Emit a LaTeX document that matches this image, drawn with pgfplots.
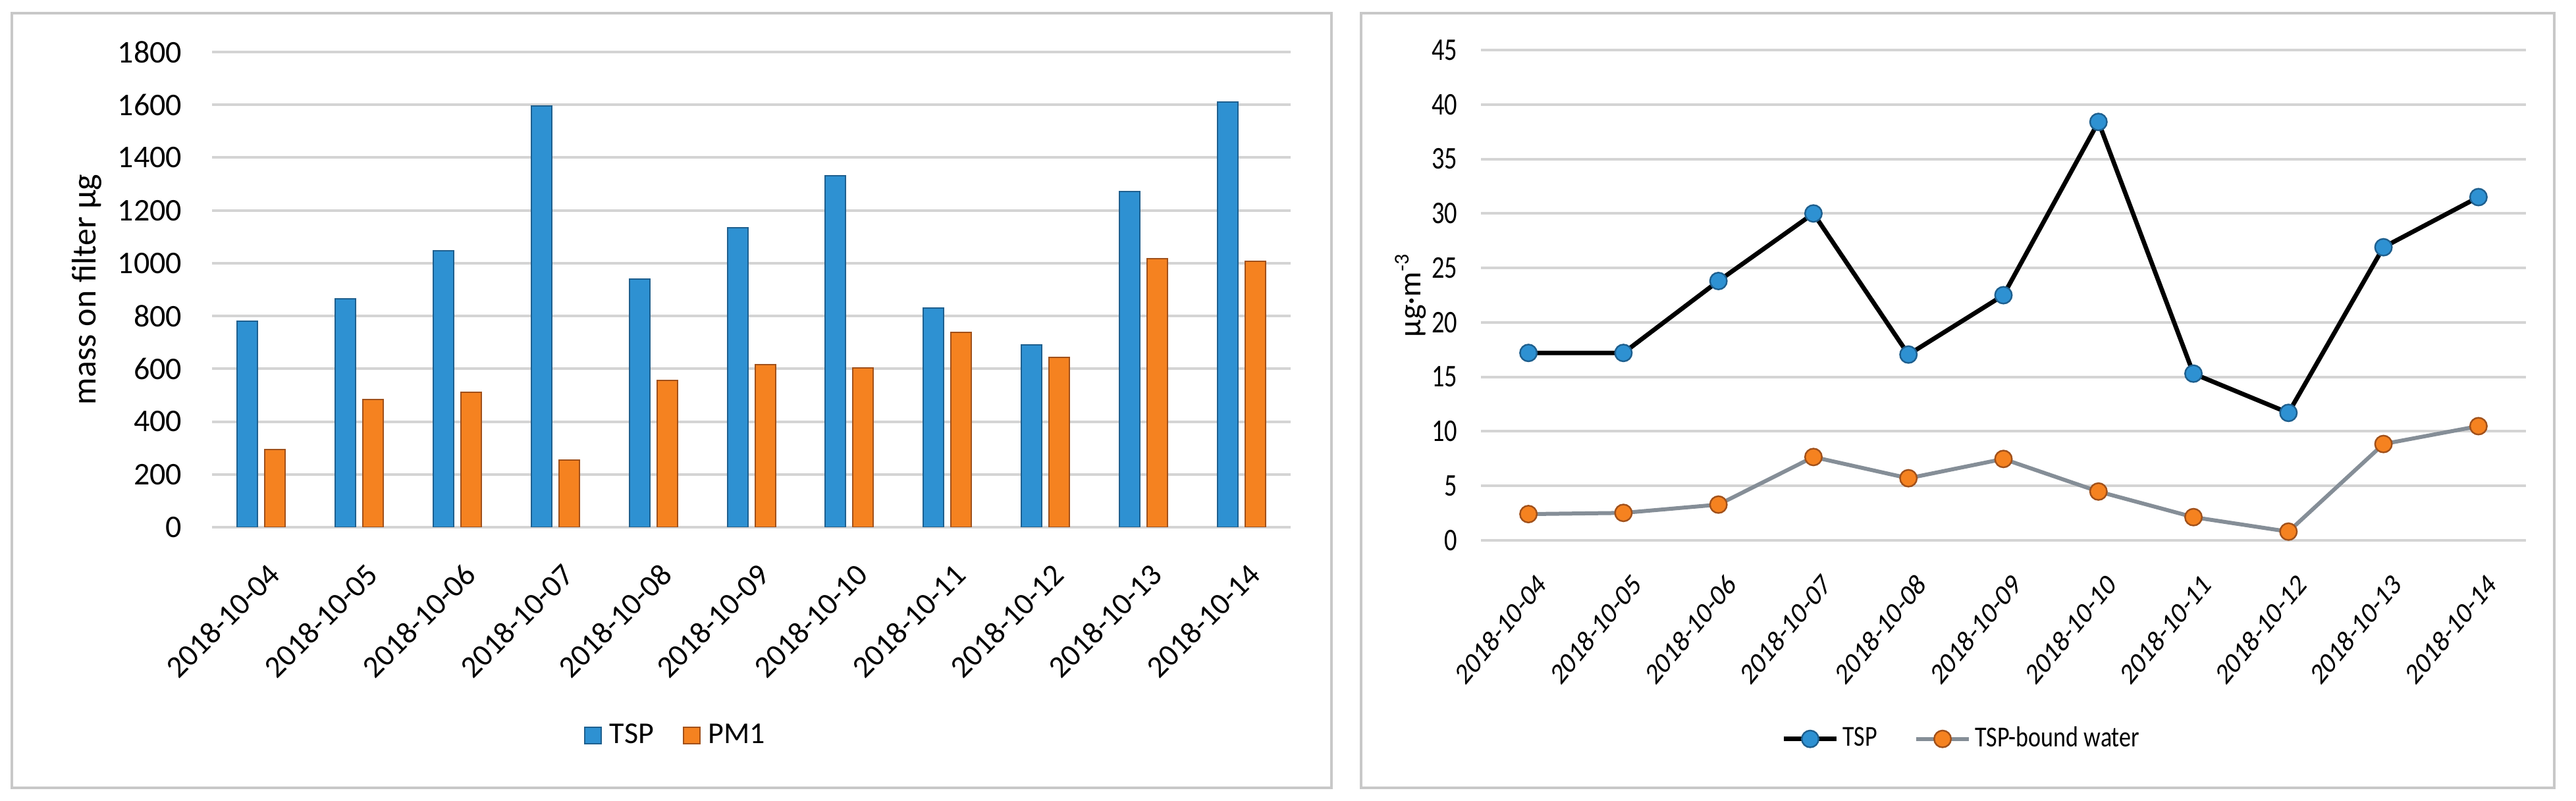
\documentclass[border=0pt]{standalone}
\usepackage{fontspec}
\setmainfont{Carlito}
\usepackage{graphicx}
\usepackage{pgfplots}
\pgfplotsset{compat=1.18}

\definecolor{tspblue}{HTML}{2E91D2}
\definecolor{tspdark}{HTML}{1E5F8E}
\definecolor{pmorange}{HTML}{F58220}
\definecolor{pmdark}{HTML}{A0501A}
\definecolor{gridgray}{HTML}{D4D4D4}
\definecolor{framegray}{HTML}{C8C8C8}
\definecolor{watergray}{HTML}{858E97}

\pgfplotsset{
  sqlegend/.style={legend image code/.code={\draw[##1] (0pt,-3.1pt) rectangle (6.2pt,3.1pt);}},
  lnlegend/.style={legend image code/.code={\draw[mark repeat=2,mark phase=2,##1] plot coordinates {(0pt,0pt) (10pt,0pt) (20pt,0pt)};}},
}

\pgfplotstableread{
x tsp pm
0 780 295
1 865 484
2 1046 510
3 1595 255
4 940 557
5 1135 615
6 1332 604
7 829 737
8 691 644
9 1271 1018
10 1611 1006
}\bardata

\pgfplotstableread{
x tsp water
0 17.2 2.41
1 17.2 2.52
2 23.8 3.28
3 30.0 7.65
4 17.05 5.70
5 22.5 7.47
6 38.4 4.48
7 15.3 2.13
8 11.7 0.80
9 26.9 8.84
10 31.5 10.48
}\linedata

\begin{document}
\begin{tikzpicture}
\useasboundingbox (0,0) rectangle (978pt,304.25pt);
\draw[framegray, line width=0.8pt] (4.5pt,5pt) rectangle (505.5pt,299.25pt);
\draw[framegray, line width=0.8pt] (516.75pt,5pt) rectangle (969.75pt,299.25pt);

\begin{axis}[
  at={(80.5pt,104pt)}, anchor=south west,
  scale only axis, width=409.5pt, height=180.5pt,
  xmin=-0.5, xmax=10.5, ymin=0, ymax=1800,
  ytick={0,200,...,1800},
  xtick={0,...,10},
  xticklabels={2018-10-04,2018-10-05,2018-10-06,2018-10-07,2018-10-08,2018-10-09,2018-10-10,2018-10-11,2018-10-12,2018-10-13,2018-10-14},
  axis line style={draw=none},
  major tick length=0pt,
  ymajorgrids, grid style={gridgray, line width=1pt},
  ybar=2.75pt, bar width=7.75pt,
  /pgf/number format/assume math mode=true,
  /pgf/number format/1000 sep={},
  yticklabel style={font=\fontsize{12}{12}\selectfont, inner sep=0pt, anchor=east, xshift=-11.25pt},
  xticklabel style={font=\fontsize{11.8}{11.8}\selectfont, xshift=2pt, yshift=-13pt, rotate=45, anchor=north east, inner sep=0pt},
  ylabel={mass on filter µg},
  every axis y label/.style={at={(axis description cs:-0.116,0.5)}, rotate=90, anchor=center, font=\fontsize{13}{13}\selectfont},
  legend style={at={(0.429,-0.438)}, anchor=center, draw=none, fill=none, legend columns=-1,
    font=\fontsize{11.5}{11.5}\selectfont, inner sep=0pt, nodes={inner sep=0pt},
    /tikz/every odd column/.append style={column sep=3pt},
    /tikz/every even column/.append style={column sep=11pt}},
]
\addplot[fill=tspblue, draw=tspdark, line width=0.5pt, sqlegend] table[x=x,y=tsp]{\bardata};
\addplot[fill=pmorange, draw=pmdark, line width=0.5pt, sqlegend] table[x=x,y=pm]{\bardata};
\addlegendentry{TSP}
\addlegendentry{PM1}
\end{axis}

\begin{axis}[
  at={(562.25pt,99pt)}, anchor=south west,
  scale only axis, width=396.75pt, height=186.25pt,
  xmin=-0.5, xmax=10.5, ymin=0, ymax=45,
  ytick={0,5,...,45},
  xtick={0,...,10},
  xticklabels={2018-10-04,2018-10-05,2018-10-06,2018-10-07,2018-10-08,2018-10-09,2018-10-10,2018-10-11,2018-10-12,2018-10-13,2018-10-14},
  axis line style={draw=none},
  major tick length=0pt,
  ymajorgrids, grid style={gridgray, line width=1pt},
  /pgf/number format/assume math mode=true,
  yticklabel style={font=\fontsize{12}{12}\selectfont, inner sep=0pt, anchor=east, xshift=-8.75pt, xscale=0.8},
  xticklabel style={font=\fontsize{11.5}{11.5}\selectfont, xshift=2.75pt, yshift=-11.6pt, xscale=0.82, rotate=45, anchor=north east, inner sep=0pt},
  ylabel={µg·m\textsuperscript{-3}},
  every axis y label/.style={at={(axis description cs:-0.0674,0.5)}, rotate=90, anchor=center, font=\fontsize{12}{12}\selectfont},
  legend style={at={(0.459,-0.405)}, anchor=center, draw=none, fill=none, legend columns=-1,
    font=\fontsize{11}{11}\selectfont, inner sep=0pt, nodes={inner sep=0pt},
    /tikz/every odd column/.append style={column sep=1.5pt},
    /tikz/every even column/.append style={column sep=14pt}},
]
\addplot[black, line width=1.7pt, mark=*, mark size=3.2pt, mark options={fill=tspblue, draw=tspdark, line width=0.6pt}, lnlegend] table[x=x,y=tsp]{\linedata};
\addplot[watergray, line width=1.5pt, mark=*, mark size=3.2pt, mark options={fill=pmorange, draw=pmdark, line width=0.6pt}, lnlegend] table[x=x,y=water]{\linedata};
\addlegendentry{\scalebox{0.82}[1]{TSP}}
\addlegendentry{\scalebox{0.82}[1]{TSP-bound water}}
\end{axis}
\end{tikzpicture}
\end{document}
